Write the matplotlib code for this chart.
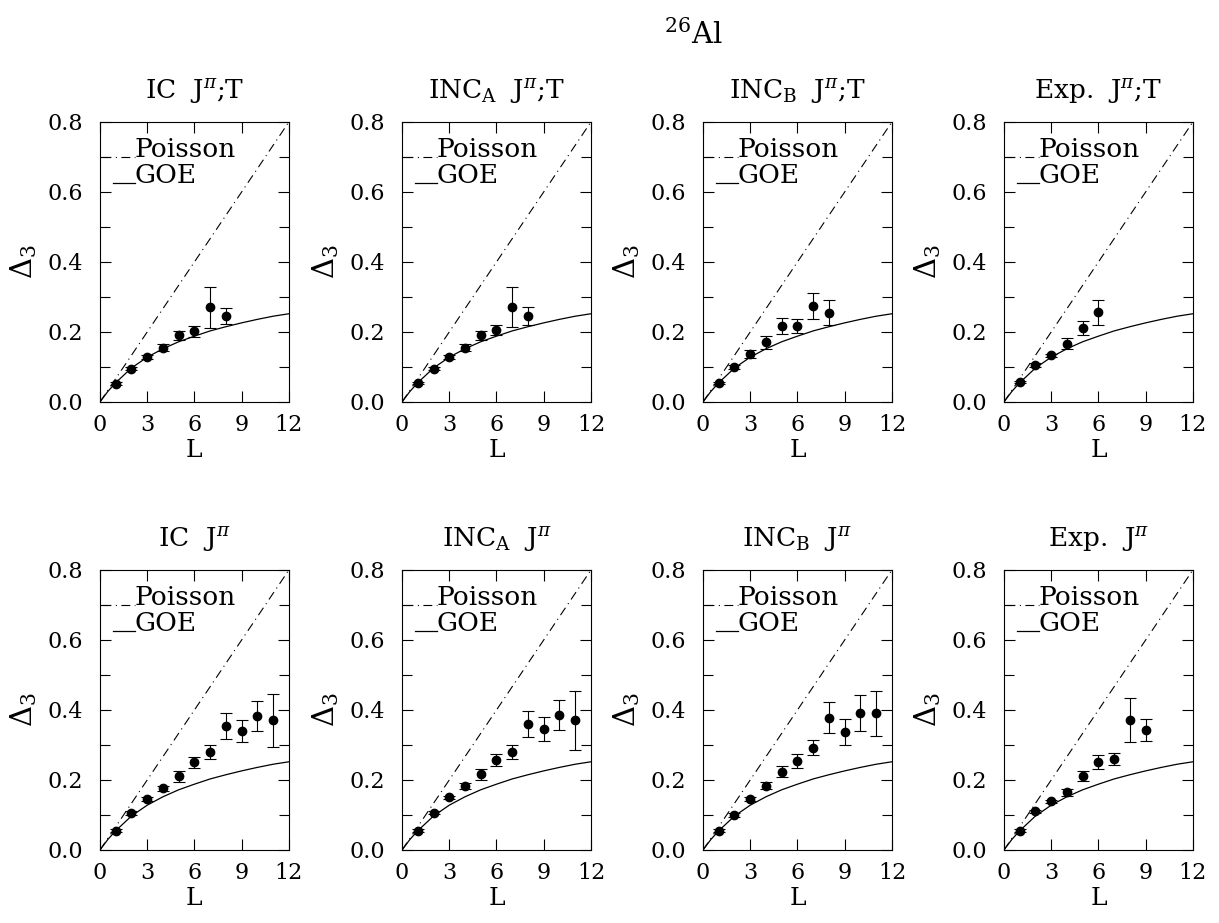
import numpy as np
import matplotlib
matplotlib.use("Agg")
import matplotlib.pyplot as plt
from matplotlib.ticker import MultipleLocator, FormatStrFormatter

plt.rcParams["font.family"] = ["DejaVu Serif"]
plt.rcParams["mathtext.fontset"] = "dejavuserif"

# theory curves
poisson_L = [0, 12]
poisson_d3 = [0.0, 0.8]
goe_L = [0, 0.5, 1, 2, 3, 4, 5, 6, 7, 8, 9, 10, 11, 12]
goe_d3 = [0.0, 0.030, 0.055, 0.097, 0.128, 0.152, 0.172, 0.188, 0.203, 0.215, 0.226, 0.236, 0.245, 0.252]

titles = [r"IC  J$^{\pi}$;T", r"INC$_{\rm A}$  J$^{\pi}$;T", r"INC$_{\rm B}$  J$^{\pi}$;T", r"Exp.  J$^{\pi}$;T",
          r"IC  J$^{\pi}$", r"INC$_{\rm A}$  J$^{\pi}$", r"INC$_{\rm B}$  J$^{\pi}$", r"Exp.  J$^{\pi}$"]

# J^pi;T
ic_jt = [0.052, 0.095, 0.128, 0.155, 0.190, 0.202, 0.270, 0.246]
ic_jt_err = [0.004, 0.005, 0.006, 0.010, 0.013, 0.016, 0.059, 0.022]
inca_jt = [0.054, 0.095, 0.129, 0.155, 0.190, 0.205, 0.271, 0.246]
inca_jt_err = [0.004, 0.005, 0.006, 0.010, 0.013, 0.015, 0.057, 0.025]
incb_jt = [0.054, 0.100, 0.138, 0.170, 0.217, 0.217, 0.274, 0.255]
incb_jt_err = [0.004, 0.006, 0.011, 0.018, 0.022, 0.020, 0.037, 0.035]
exp_jt = [0.057, 0.105, 0.133, 0.167, 0.210, 0.256]
exp_jt_err = [0.004, 0.005, 0.005, 0.015, 0.020, 0.035]

# J^pi
ic_j = [0.055, 0.105, 0.146, 0.176, 0.210, 0.250, 0.279, 0.354, 0.340, 0.383, 0.370]
ic_j_err = [0.004, 0.005, 0.005, 0.008, 0.015, 0.017, 0.020, 0.036, 0.032, 0.042, 0.077]
inca_j = [0.055, 0.107, 0.150, 0.183, 0.216, 0.257, 0.279, 0.360, 0.346, 0.386, 0.370]
inca_j_err = [0.004, 0.005, 0.005, 0.008, 0.015, 0.016, 0.020, 0.038, 0.035, 0.042, 0.085]
incb_j = [0.055, 0.100, 0.145, 0.184, 0.224, 0.254, 0.292, 0.378, 0.338, 0.392, 0.390]
incb_j_err = [0.004, 0.005, 0.005, 0.010, 0.015, 0.020, 0.022, 0.045, 0.037, 0.052, 0.063]
exp_j = [0.055, 0.110, 0.139, 0.165, 0.212, 0.252, 0.259, 0.371, 0.343]
exp_j_err = [0.004, 0.005, 0.005, 0.010, 0.014, 0.020, 0.017, 0.062, 0.031]

series = [(ic_jt, ic_jt_err), (inca_jt, inca_jt_err), (incb_jt, incb_jt_err), (exp_jt, exp_jt_err),
          (ic_j, ic_j_err), (inca_j, inca_j_err), (incb_j, incb_j_err), (exp_j, exp_j_err)]

fig = plt.figure(figsize=(12.19, 9.23), dpi=100)
lefts = [0.082, 0.3298, 0.5767, 0.8236]
bottoms = [0.5645, 0.0791]
w, h = 0.155, 0.3034

dashdot = (0, (8, 4, 1, 4))

for i, (vals, errs) in enumerate(series):
    ax = fig.add_axes([lefts[i % 4], bottoms[i // 4], w, h])
    L = np.arange(1, len(vals) + 1)
    ax.plot(poisson_L, poisson_d3, color="black", lw=0.8, linestyle=dashdot)
    ax.plot(goe_L, goe_d3, color="black", lw=0.9)
    ax.errorbar(L, vals, yerr=errs, fmt="o", color="black", ms=6,
                elinewidth=0.8, capsize=4, capthick=0.8)
    # in-panel key
    ax.plot([0.1, 2.2], [0.7, 0.7], color="black", lw=0.8, linestyle=dashdot)
    ax.plot([0.8, 2.2], [0.625, 0.625], color="black", lw=0.9)
    ax.text(2.2, 0.7, "Poisson", fontsize=19, va="baseline", ha="left")
    ax.text(2.2, 0.625, "GOE", fontsize=19, va="baseline", ha="left")

    ax.set_xlim(0, 12)
    ax.set_ylim(0, 0.8)
    ax.xaxis.set_major_locator(MultipleLocator(3))
    ax.yaxis.set_major_locator(MultipleLocator(0.2))
    ax.yaxis.set_minor_locator(MultipleLocator(0.1))
    ax.tick_params(which="both", direction="in", top=True, right=True,
                   width=0.8, labelsize=16)
    ax.tick_params(axis="x", pad=9)
    ax.tick_params(axis="y", pad=12)
    ax.tick_params(which="major", length=8)
    ax.tick_params(which="minor", length=7)
    ax.yaxis.set_major_formatter(FormatStrFormatter("%.1f"))
    for s in ax.spines.values():
        s.set_linewidth(0.8)
    ax.set_xlabel("L", fontsize=18, labelpad=2)
    ax.set_ylabel(r"$\Delta_3$", fontsize=21, labelpad=6)
    ax.set_title(titles[i], fontsize=19, pad=17)

fig.text(0.569, 0.962, r"$^{26}$Al", fontsize=21, ha="center", va="center")

fig.savefig("out.png", dpi=100)
